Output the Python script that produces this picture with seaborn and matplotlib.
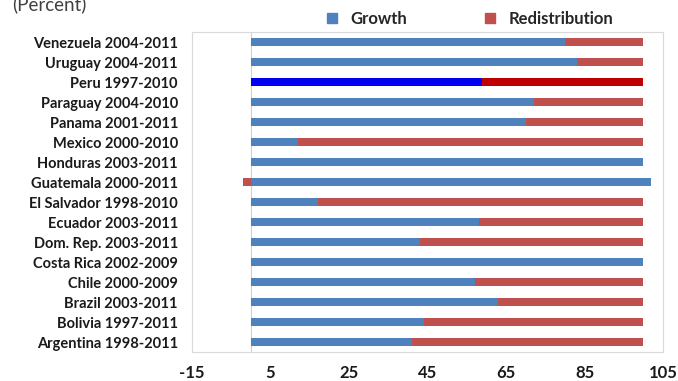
import numpy as np
import seaborn as sns
import matplotlib.pyplot as plt
from matplotlib.lines import Line2D

countries = ['Venezuela 2004-2011', 'Uruguay 2004-2011', 'Peru 1997-2010',
	'Paraguay 2004-2010', 'Panama 2001-2011', 'Mexico 2000-2010',
	'Honduras 2003-2011', 'Guatemala 2000-2011', 'El Salvador 1998-2010',
	'Ecuador 2003-2011', 'Dom. Rep. 2003-2011', 'Costa Rica 2002-2009',
	'Chile 2000-2009', 'Brazil 2003-2011', 'Bolivia 1997-2011',
	'Argentina 1998-2011']
growth = [80, 83, 59, 72, 70, 12, 100, 102, 17, 58, 43, 100, 57, 63, 44, 41]
redistribution = [20, 17, 41, 28, 30, 88, 0, -2, 83, 42, 57, 0, 43, 37, 56, 59]
xticks = [-15, 5, 25, 45, 65, 85, 105]
highlight = 'Peru 1997-2010'

blue = '#4f81bd'
red = '#c0504d'

def main():
	sns.set_style('white')
	plt.rcParams['font.family'] = ['Lato', 'DejaVu Sans']

	fig = plt.figure(figsize=(6.78, 3.81), dpi=100)
	ax = fig.add_axes([0.283, 0.076, 0.695, 0.84])

	g = np.array(growth, dtype=float)
	r = np.array(redistribution, dtype=float)
	# negative redistribution sits to the left of zero, like Excel stacking
	left = np.where(r < 0, 0, g)

	sns.barplot(x=g, y=countries, color=blue, saturation=1, width=0.4,
		linewidth=0, orient='h', ax=ax)
	n = len(countries)
	sns.barplot(x=r, y=countries, color=red, saturation=1, width=0.4,
		linewidth=0, orient='h', left=left, ax=ax)

	# Peru highlighted with stronger colours
	i = countries.index(highlight)
	ax.patches[i].set_facecolor('#0000f0')
	ax.patches[n + i].set_facecolor('#c00000')

	ax.axvline(0, color='#d0d0d0', lw=0.8, zorder=0)
	ax.set_xlim(-15, 105)
	ax.set_ylim(n - 0.5, -0.5)
	ax.set_xticks(xticks)
	ax.set_xticklabels([str(t) for t in xticks])
	ax.set_xlabel('')
	ax.set_ylabel('')

	for s in ax.spines.values():
		s.set_color('#d9d9d9')
		s.set_linewidth(0.8)

	ax.tick_params(axis='x', length=3, color='#d9d9d9', pad=6, labelsize=12)
	ax.tick_params(axis='y', length=0, pad=10, labelsize=10.5)
	for lab in ax.get_xticklabels() + ax.get_yticklabels():
		lab.set_fontweight('bold')
		lab.set_color('#1a1a1a')

	handles = [Line2D([], [], marker='s', ls='', color=blue, markersize=7),
		Line2D([], [], marker='s', ls='', color=red, markersize=7)]
	fig.legend(handles, ['Growth', 'Redistribution'], ncol=2,
		loc='center', bbox_to_anchor=(0.685, 0.95), frameon=False,
		handletextpad=0.1, columnspacing=4,
		prop={'weight': 'bold', 'size': 12})

	fig.text(0.018, 0.99, '(Percent)', fontsize=13.5, color='#404040',
		va='center', ha='left')

	fig.savefig('out.png', dpi=100)

if __name__ == '__main__': main()
